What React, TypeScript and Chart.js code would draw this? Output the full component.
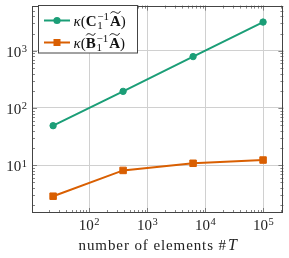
import React, { useEffect, useRef } from "react";
import { Chart, registerables } from "chart.js";

Chart.register(...registerables);

const elementCounts = [24, 384, 6144, 98304];
const kappaC = [49, 195, 790, 3170];
const kappaB = [2.87, 8.1, 10.8, 12.3];
const xTickPowers = [2, 3, 4, 5];
const yTickPowers = [1, 2, 3];
const xLabel = "number of elements #";

const GREEN = "#1b9e77";
const ORANGE = "#d95f02";
const SERIF = "'Liberation Serif', 'DejaVu Serif', serif";

type Piece =
  | { kind: "text"; t: string; font: string }
  | { kind: "scripts"; sup: string; sub: string; font: string }
  | { kind: "tilde"; t: string; font: string };

function drawMath(ctx: CanvasRenderingContext2D, x: number, y: number, pieces: Piece[], size: number) {
  let cx = x;
  ctx.textBaseline = "alphabetic";
  ctx.textAlign = "left";
  for (const p of pieces) {
    if (p.kind === "text") {
      ctx.font = p.font;
      ctx.fillText(p.t, cx, y);
      cx += ctx.measureText(p.t).width;
    } else if (p.kind === "tilde") {
      ctx.font = p.font;
      const w = ctx.measureText(p.t).width;
      ctx.fillText(p.t, cx, y);
      const ty = y - size * 0.86;
      ctx.save();
      ctx.lineWidth = 1;
      ctx.beginPath();
      const x0 = cx + w * 0.05, x1 = cx + w * 0.95;
      const d = x1 - x0;
      ctx.moveTo(x0, ty + 0.8);
      ctx.bezierCurveTo(x0 + d * 0.2, ty - 2.2, x0 + d * 0.45, ty - 0.5, x0 + d * 0.55, ty);
      ctx.bezierCurveTo(x0 + d * 0.7, ty + 0.8, x0 + d * 0.85, ty + 1.5, x1, ty - 1.5);
      ctx.stroke();
      ctx.restore();
      cx += w;
    } else {
      ctx.font = p.font;
      const w1 = ctx.measureText(p.sup).width;
      const w2 = ctx.measureText(p.sub).width;
      ctx.fillText(p.sup, cx + 0.8, y - size * 0.4);
      ctx.fillText(p.sub, cx + 0.8, y + size * 0.2);
      cx += Math.max(w1, w2) + 1.8;
    }
  }
}

function legendPieces(first: "C" | "B", size: number): Piece[] {
  const reg = `${size}px ${SERIF}`;
  const it = `italic ${size}px ${SERIF}`;
  const bold = `bold ${size}px ${SERIF}`;
  const small = `${Math.round(size * 0.7)}px ${SERIF}`;
  const arr: Piece[] = [
    { kind: "text", t: "κ", font: it },
    { kind: "text", t: "(", font: reg },
  ];
  if (first === "C") arr.push({ kind: "text", t: "C", font: bold });
  else arr.push({ kind: "tilde", t: "B", font: bold });
  arr.push({ kind: "scripts", sup: "−1", sub: "1", font: small });
  arr.push({ kind: "tilde", t: "A", font: bold });
  arr.push({ kind: "text", t: ")", font: reg });
  return arr;
}

const decorPlugin = {
  id: "decor",
  afterDraw(chart: any) {
    const ctx: CanvasRenderingContext2D = chart.ctx;
    const { left, right, top, bottom } = chart.chartArea;
    const xs = chart.scales.x;
    const ys = chart.scales.y;
    ctx.save();
    // minor/major ticks inside
    ctx.strokeStyle = "#666";
    ctx.lineWidth = 0.8;
    for (let n = 0; n <= 6; n++) {
      for (let k = 1; k <= 9; k++) {
        const v = k * Math.pow(10, n);
        const len = k === 1 ? 5 : 3;
        if (v >= xs.min && v <= xs.max) {
          const px = Math.round(xs.getPixelForValue(v)) + 0.5;
          ctx.beginPath();
          ctx.moveTo(px, bottom);
          ctx.lineTo(px, bottom - len);
          ctx.moveTo(px, top);
          ctx.lineTo(px, top + len);
          ctx.stroke();
        }
        if (v >= ys.min && v <= ys.max) {
          const py = Math.round(ys.getPixelForValue(v)) + 0.5;
          ctx.beginPath();
          ctx.moveTo(left, py);
          ctx.lineTo(left + len, py);
          ctx.moveTo(right, py);
          ctx.lineTo(right - len, py);
          ctx.stroke();
        }
      }
    }
    // frame
    ctx.strokeStyle = "#444";
    ctx.lineWidth = 1;
    ctx.strokeRect(Math.round(left) + 0.5, Math.round(top) + 0.5, Math.round(right - left) - 1, Math.round(bottom - top) - 1);

    // tick labels
    ctx.fillStyle = "#222";
    const fs = 15;
    const ss = 10.5;
    for (const p of xTickPowers) {
      const px = xs.getPixelForValue(Math.pow(10, p));
      ctx.font = `${fs}px ${SERIF}`;
      const w1 = ctx.measureText("10").width;
      ctx.font = `${ss}px ${SERIF}`;
      const w2 = ctx.measureText(String(p)).width;
      const x0 = px - (w1 + w2 + 0.5) / 2;
      ctx.textAlign = "left";
      ctx.textBaseline = "alphabetic";
      ctx.font = `${fs}px ${SERIF}`;
      ctx.fillText("10", x0, bottom + 17);
      ctx.font = `${ss}px ${SERIF}`;
      ctx.fillText(String(p), x0 + w1 + 0.5, bottom + 12);
    }
    for (const p of yTickPowers) {
      const py = ys.getPixelForValue(Math.pow(10, p));
      ctx.font = `${ss}px ${SERIF}`;
      const w2 = ctx.measureText(String(p)).width;
      ctx.font = `${fs}px ${SERIF}`;
      const w1 = ctx.measureText("10").width;
      const xEnd = left - 5;
      ctx.textAlign = "left";
      ctx.textBaseline = "alphabetic";
      ctx.fillText("10", xEnd - w2 - w1 - 0.5, py + 6);
      ctx.font = `${ss}px ${SERIF}`;
      ctx.fillText(String(p), xEnd - w2, py + 1.5);
    }
    // axis title
    ctx.font = `${fs}px ${SERIF}`;
    (ctx as any).letterSpacing = "0.9px";
    const tw = ctx.measureText(xLabel).width;
    (ctx as any).letterSpacing = "0px";
    ctx.font = `italic ${fs + 1}px ${SERIF}`;
    const tw2 = ctx.measureText("T").width;
    const cxm = (left + right) / 2;
    const sx = cxm - (tw + tw2 + 1) / 2;
    ctx.font = `${fs}px ${SERIF}`;
    (ctx as any).letterSpacing = "0.9px";
    ctx.fillText(xLabel, sx, bottom + 37);
    (ctx as any).letterSpacing = "0px";
    ctx.font = `italic ${fs + 1}px ${SERIF}`;
    ctx.fillText("T", sx + tw + 1, bottom + 37);

    // legend
    const lx = 38.5, ly = 5.5, lw = 99, lh = 47.5;
    ctx.fillStyle = "#fff";
    ctx.fillRect(lx, ly, lw, lh);
    ctx.strokeStyle = "#444";
    ctx.lineWidth = 1;
    ctx.strokeRect(lx, ly, lw, lh);
    const entries = [
      { color: GREEN, style: "circle", y: 20.5, math: legendPieces("C", 15) },
      { color: ORANGE, style: "rect", y: 42.5, math: legendPieces("B", 15) },
    ];
    for (const e of entries) {
      ctx.strokeStyle = e.color;
      ctx.fillStyle = e.color;
      ctx.lineWidth = 2;
      ctx.beginPath();
      ctx.moveTo(44, e.y);
      ctx.lineTo(70, e.y);
      ctx.stroke();
      ctx.beginPath();
      if (e.style === "circle") {
        ctx.arc(57, e.y, 3.6, 0, Math.PI * 2);
      } else {
        ctx.rect(53.5, e.y - 3.5, 7, 7);
      }
      ctx.fill();
      ctx.fillStyle = "#111";
      ctx.strokeStyle = "#111";
      drawMath(ctx, 73.5, e.y + 5, e.math, 15);
    }
    ctx.restore();
  },
};

export default function App() {
  const ref = useRef<HTMLCanvasElement | null>(null);
  useEffect(() => {
    if (!ref.current) return;
    const powersFilter = (powers: number[]) => (scale: any) => {
      scale.ticks = powers.map((p) => ({ value: Math.pow(10, p) }));
    };
    const chart = new Chart(ref.current, {
      type: "line",
      data: {
        datasets: [
          {
            label: "kC",
            data: elementCounts.map((x, i) => ({ x, y: kappaC[i] })),
            borderColor: GREEN,
            backgroundColor: GREEN,
            borderWidth: 2,
            pointStyle: "circle",
            pointRadius: 3.2,
            pointBorderWidth: 1,
          },
          {
            label: "kB",
            data: elementCounts.map((x, i) => ({ x, y: kappaB[i] })),
            borderColor: ORANGE,
            backgroundColor: ORANGE,
            borderWidth: 2,
            pointStyle: "rect",
            pointRadius: 4.6,
            pointBorderWidth: 1,
          },
        ],
      },
      options: {
        animation: false,
        responsive: false,
        maintainAspectRatio: false,
        layout: { padding: { top: 1, right: 2, left: 0, bottom: 0 } },
        plugins: { legend: { display: false }, tooltip: { enabled: false } },
        scales: {
          x: {
            type: "logarithmic",
            min: 10.4,
            max: 220000,
            afterBuildTicks: powersFilter(xTickPowers),
            afterFit: (s: any) => {
              s.height = 45;
            },
            ticks: { display: false },
            border: { display: false },
            grid: { color: "#d0d0d0", lineWidth: 1, drawTicks: false },
          },
          y: {
            type: "logarithmic",
            min: 1.46,
            max: 6150,
            afterBuildTicks: powersFilter(yTickPowers),
            afterFit: (s: any) => {
              s.width = 32;
            },
            ticks: { display: false },
            border: { display: false },
            grid: { color: "#d0d0d0", lineWidth: 1, drawTicks: false },
          },
        },
      },
      plugins: [decorPlugin],
    });
    return () => chart.destroy();
  }, []);
  return (
    <div style={{ position: "absolute", left: 0, top: 0, width: 289, height: 258, background: "#fff" }}>
      <canvas ref={ref} width={289} height={258} style={{ display: "block" }} />
    </div>
  );
}
